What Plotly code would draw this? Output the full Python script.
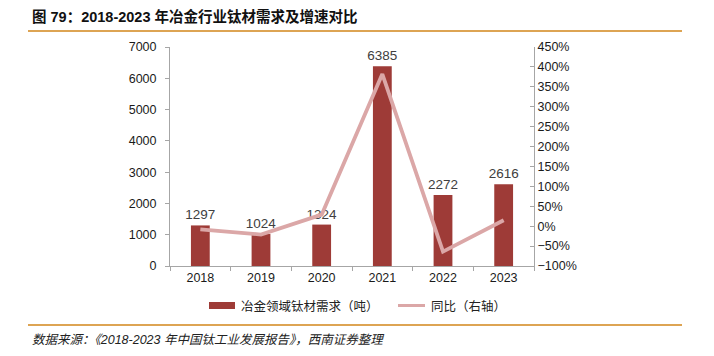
import plotly.graph_objects as go

years = ["2018", "2019", "2020", "2021", "2022", "2023"]
demand = [1297, 1024, 1324, 6385, 2272, 2616]
yoy = [-8, -21, 29, 382, -64, 15]

bar_color = "#9E3B37"
line_color = "#DBA7A7"
axis_gray = "#A6A6A6"
font_main = "Liberation Sans, Arial, Noto Sans CJK SC, sans-serif"
cjk = "Noto Sans CJK SC, sans-serif"

# page offset of the body margin
OFF = 8
PL, PR, PT, PB = 170, 534, 47, 266  # plot area in page pixels
W, H = 698, 340


def px(x):
    return (x - PL) / (PR - PL)


def py(y):
    return (PB - y) / (PB - PT)


fig = go.Figure()
fig.add_trace(go.Bar(
    x=years, y=demand, name="冶金领域钛材需求（吨）",
    marker=dict(color=bar_color, line=dict(width=0)),
    width=0.31,
    text=[str(v) for v in demand], textposition="outside", constraintext="none",
    textfont=dict(size=13.5, color="#404040", family=font_main),
    cliponaxis=False, showlegend=False,
))
fig.add_trace(go.Scatter(
    x=years, y=yoy, name="同比（右轴）", yaxis="y2", mode="lines",
    line=dict(color=line_color, width=3.8), showlegend=False,
))

fig.update_layout(
    width=W, height=H,
    margin=dict(l=PL - OFF, r=W - (PR - OFF), t=PT - OFF, b=H - (PB - OFF), autoexpand=False),
    paper_bgcolor="white", plot_bgcolor="white",
    font=dict(family=font_main, size=12, color="#1a1a1a"),
    xaxis=dict(
        type="category", showline=True, linecolor=axis_gray, linewidth=1,
        ticks="outside", ticklen=4, tickcolor=axis_gray, tickson="boundaries",
        tickfont=dict(size=12.5), showgrid=False, zeroline=False,
    ),
    yaxis=dict(
        range=[0, 7000], dtick=1000, showline=True, linecolor=axis_gray,
        ticks="outside", ticklen=4, tickcolor=axis_gray, showgrid=False,
        zeroline=False, tickfont=dict(size=12.5), ticklabelstandoff=6,
    ),
    yaxis2=dict(
        overlaying="y", side="right", range=[-100, 450], dtick=50,
        ticksuffix="%", showline=True, linecolor=axis_gray,
        ticks="inside", ticklen=4, tickcolor=axis_gray, showgrid=False,
        zeroline=False, tickfont=dict(size=12.5),
    ),
    showlegend=False,
)

shapes = [
    dict(type="line", xref="paper", yref="paper", x0=px(28), x1=px(682),
         y0=py(31), y1=py(31), line=dict(color="#DDA453", width=2)),
    dict(type="line", xref="paper", yref="paper", x0=px(28), x1=px(682),
         y0=py(325), y1=py(325), line=dict(color="#DDA453", width=2)),
    dict(type="rect", xref="paper", yref="paper", x0=px(209), x1=px(235),
         y0=py(309), y1=py(302), fillcolor=bar_color, line=dict(width=0)),
    dict(type="line", xref="paper", yref="paper", x0=px(398), x1=px(425),
         y0=py(305.5), y1=py(305.5), line=dict(color=line_color, width=3)),
]
fig.update_layout(shapes=shapes)

annotations = [
    dict(text="<b>图 79：2018-2023 年冶金行业钛材需求及增速对比</b>", xref="paper", yref="paper",
         x=px(30), y=py(17), xanchor="left", yanchor="middle", showarrow=False,
         font=dict(size=14.5, family="Liberation Sans, Noto Sans CJK SC, sans-serif", color="#111111")),
    dict(text="冶金领域钛材需求（吨）", xref="paper", yref="paper",
         x=px(239), y=py(305.5), xanchor="left", yanchor="middle",
         showarrow=False, font=dict(size=12.5, family=cjk, color="#222222")),
    dict(text="同比（右轴）", xref="paper", yref="paper",
         x=px(429), y=py(305.5), xanchor="left", yanchor="middle",
         showarrow=False, font=dict(size=12.5, family=cjk, color="#222222")),
    dict(text="<i>数据来源：《2018-2023 年中国钛工业发展报告》，西南证券整理</i>", xref="paper", yref="paper",
         x=px(30), y=py(340), xanchor="left", yanchor="middle", showarrow=False,
         font=dict(size=12.5, family="Liberation Sans, Noto Sans CJK SC, sans-serif", color="#222222")),
]
fig.update_layout(annotations=annotations)

fig.write_html("out.html")
